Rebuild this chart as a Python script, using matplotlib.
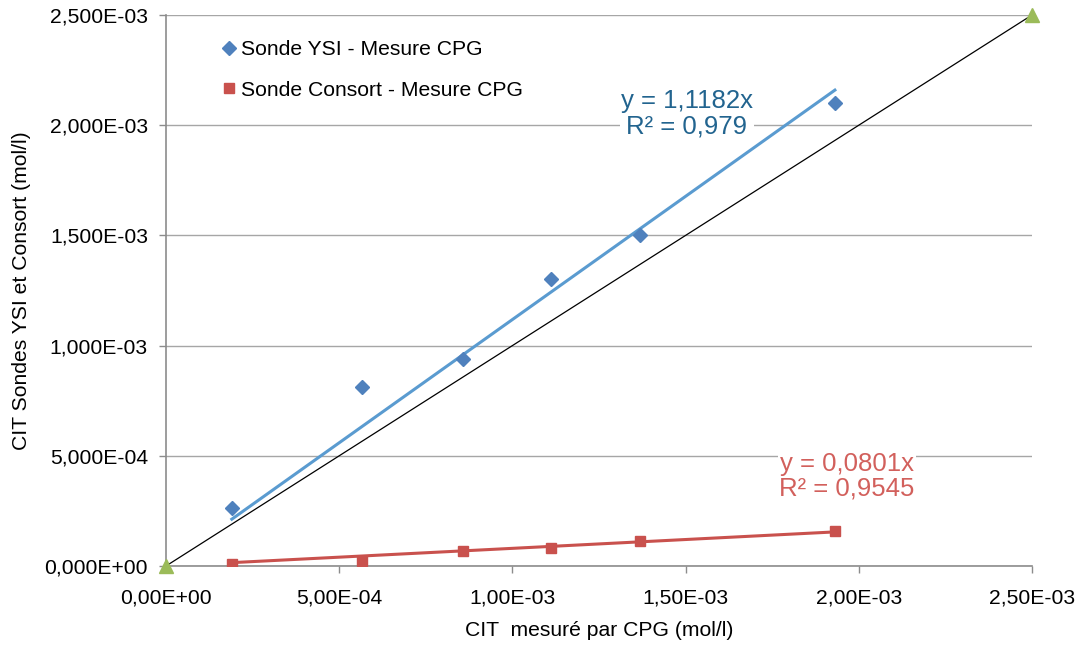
import matplotlib
matplotlib.use("Agg")
import matplotlib.pyplot as plt
import numpy as np
from matplotlib.ticker import FuncFormatter, MultipleLocator

plt.rcParams['font.family'] = ['Liberation Sans', 'DejaVu Sans']

# Data (mol/l)
x_cpg = [0.19e-3, 0.566e-3, 0.857e-3, 1.111e-3, 1.368e-3, 1.931e-3]
y_ysi = [0.263e-3, 0.812e-3, 0.939e-3, 1.302e-3, 1.502e-3, 2.100e-3]
y_consort = [0.010e-3, 0.023e-3, 0.068e-3, 0.082e-3, 0.113e-3, 0.159e-3]
ref_x = [0.0, 2.5e-3]
ref_y = [0.0, 2.5e-3]
slope_ysi = 1.1182
slope_consort = 0.0801
label_ysi = "y = 1,1182x\nR² = 0,979"
label_consort = "y = 0,0801x\nR² = 0,9545"

c_ysi = '#4F81BD'
c_ysi_line = '#5A9BD0'
c_ysi_text = '#22648F'
c_con = '#C9514D'
c_con_text = '#D2605C'
c_tri = '#9BBB59'

FS = 15.2

fig = plt.figure(figsize=(10.84, 6.5), dpi=100)
ax = fig.add_axes([166/1084, 1-566/650, (1032-166)/1084, (566-15)/650])

def fmt_y(v, pos):
    return f"{v:.3E}".replace('.', ',')
def fmt_x(v, pos):
    return f"{v:.2E}".replace('.', ',')

ax.set_xlim(0, 2.5e-3)
ax.set_ylim(0, 2.5e-3)
ax.xaxis.set_major_locator(MultipleLocator(5e-4))
ax.yaxis.set_major_locator(MultipleLocator(5e-4))
ax.xaxis.set_major_formatter(FuncFormatter(fmt_x))
ax.yaxis.set_major_formatter(FuncFormatter(fmt_y))

ax.grid(axis='y', color='#A6A6A6', linewidth=1.0)
ax.set_axisbelow(True)
for s in ['top', 'right']:
    ax.spines[s].set_visible(False)
for s in ['left', 'bottom']:
    ax.spines[s].set_color('#8C8C8C')
    ax.spines[s].set_linewidth(1.2)
ax.tick_params(axis='both', colors='#8C8C8C', length=5, width=1, labelcolor='black',
               labelsize=FS)
ax.tick_params(axis='x', pad=11)
ax.tick_params(axis='y', pad=8)

# reference line y = x
ax.plot(ref_x, ref_y, color='black', linewidth=0.9, zorder=3)
ax.plot(ref_x, ref_y, linestyle='none', marker='^', markersize=10, color=c_tri,
        clip_on=False, zorder=5)

# trendlines
xs = np.array([x_cpg[0], x_cpg[-1]])
ax.plot(xs, slope_ysi * xs, color=c_ysi_line, linewidth=2.2, zorder=3)
ax.plot(xs, slope_consort * xs, color=c_con, linewidth=2.2, zorder=3)

# data series
ax.plot(x_cpg, y_ysi, linestyle='none', marker='D', markersize=7.5, color=c_ysi,
        label='Sonde YSI - Mesure CPG', zorder=4)
ax.plot(x_cpg, y_consort, linestyle='none', marker='s', markersize=7.5, color=c_con,
        label='Sonde Consort - Mesure CPG', zorder=4)

leg = ax.legend(loc='upper left', bbox_to_anchor=(0.05, 0.97), frameon=False,
                fontsize=FS, handletextpad=0.0, labelspacing=1.03, handlelength=1.1,
                borderaxespad=0)

ax.text(1.504e-3, 2.051e-3, label_ysi, color=c_ysi_text, fontsize=18.5, ha='center',
        va='center', linespacing=1.05, zorder=6,
        bbox=dict(facecolor='white', edgecolor='none', pad=1))
ax.text(1.966e-3, 0.406e-3, label_consort, color=c_con_text, fontsize=18.5, ha='center',
        va='center', linespacing=1.05, zorder=6,
        bbox=dict(facecolor='white', edgecolor='none', pad=1))

ax.set_xlabel("CIT  mesuré par CPG (mol/l)", fontsize=FS, labelpad=10)
ax.set_ylabel("CIT Sondes YSI et Consort (mol/l)", fontsize=FS, labelpad=10)

fig.savefig("out.png", dpi=100)
